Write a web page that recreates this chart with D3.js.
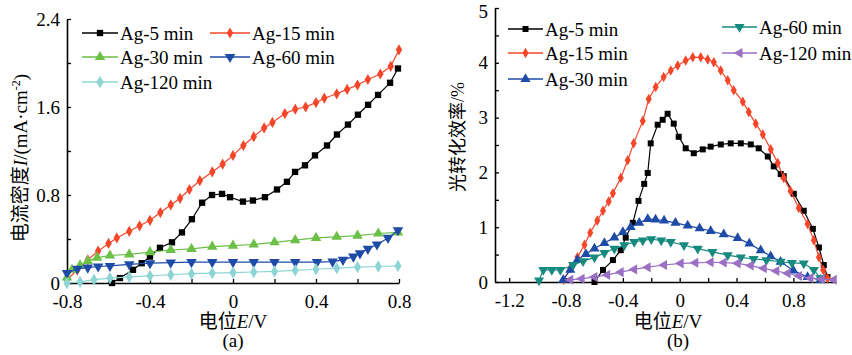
<!DOCTYPE html>
<html>
<head>
<meta charset="utf-8">
<script src="https://cdn.jsdelivr.net/npm/d3@7"></script>
<style>
  body { margin: 0; background: #fff; }
</style>
</head>
<body>
<svg id="chart" width="852" height="355"></svg>
<script>
const FONT = '"Liberation Serif", "Times New Roman", Times, "Noto Sans CJK SC", serif';

// ---- panel (a): current density vs potential ----
const a_ag5 = [[-0.583,0.0],[-0.545,0.045],[-0.482,0.12],[-0.44,0.18],[-0.40,0.24],[-0.352,0.32],[-0.294,0.37],[-0.246,0.46],[-0.198,0.58],[-0.149,0.73],[-0.101,0.80],[-0.053,0.81],[-0.014,0.78],[0.048,0.74],[0.096,0.75],[0.154,0.78],[0.212,0.85],[0.26,0.92],[0.299,1.01],[0.347,1.07],[0.395,1.16],[0.453,1.25],[0.501,1.35],[0.554,1.44],[0.602,1.53],[0.651,1.62],[0.699,1.71],[0.757,1.82],[0.795,1.95]];
const a_ag15 = [[-0.8,0.03],[-0.75,0.12],[-0.70,0.21],[-0.65,0.29],[-0.60,0.36],[-0.56,0.41],[-0.50,0.47],[-0.45,0.52],[-0.40,0.57],[-0.35,0.64],[-0.30,0.71],[-0.255,0.77],[-0.21,0.85],[-0.16,0.93],[-0.10,1.01],[-0.05,1.08],[0.0,1.16],[0.05,1.25],[0.10,1.33],[0.15,1.41],[0.19,1.46],[0.25,1.54],[0.30,1.58],[0.35,1.60],[0.40,1.64],[0.44,1.68],[0.50,1.72],[0.55,1.76],[0.60,1.80],[0.65,1.85],[0.71,1.90],[0.76,1.97],[0.80,2.12]];
const a_ag30 = [[-0.8,0.05],[-0.776,0.12],[-0.737,0.16],[-0.70,0.20],[-0.655,0.23],[-0.593,0.25],[-0.5,0.26],[-0.4,0.28],[-0.3,0.30],[-0.2,0.31],[-0.1,0.33],[0.0,0.34],[0.1,0.35],[0.2,0.37],[0.3,0.39],[0.4,0.41],[0.5,0.42],[0.6,0.43],[0.7,0.45],[0.795,0.46]];
const a_ag60 = [[-0.8,0.09],[-0.75,0.13],[-0.70,0.14],[-0.65,0.15],[-0.593,0.155],[-0.5,0.17],[-0.40,0.18],[-0.3,0.185],[-0.2,0.19],[-0.1,0.19],[0.0,0.19],[0.1,0.19],[0.2,0.19],[0.3,0.19],[0.405,0.19],[0.48,0.195],[0.53,0.21],[0.58,0.24],[0.612,0.27],[0.65,0.31],[0.694,0.35],[0.747,0.41],[0.795,0.48]];
const a_ag120 = [[-0.8,0.0],[-0.737,0.01],[-0.67,0.03],[-0.593,0.045],[-0.5,0.055],[-0.40,0.065],[-0.3,0.075],[-0.2,0.085],[-0.1,0.09],[0.0,0.095],[0.1,0.10],[0.2,0.105],[0.3,0.115],[0.4,0.125],[0.5,0.135],[0.6,0.145],[0.7,0.15],[0.795,0.155]];

// ---- panel (b): conversion efficiency vs potential ----
const b_ag5 = [[-0.6,0.0],[-0.54,0.22],[-0.47,0.40],[-0.415,0.58],[-0.38,0.81],[-0.33,1.08],[-0.29,1.48],[-0.25,1.79],[-0.225,1.99],[-0.204,2.53],[-0.155,2.87],[-0.12,2.96],[-0.085,3.07],[-0.042,2.89],[-0.007,2.65],[0.042,2.44],[0.099,2.35],[0.162,2.42],[0.218,2.47],[0.289,2.51],[0.359,2.53],[0.43,2.53],[0.5,2.51],[0.556,2.44],[0.62,2.29],[0.662,2.11],[0.711,1.97],[0.732,1.93],[0.803,1.61],[0.873,1.30],[0.937,0.97],[0.98,0.63],[1.014,0.31],[1.04,0.09]];
const b_ag15 = [[-0.817,0.04],[-0.77,0.25],[-0.72,0.45],[-0.67,0.68],[-0.63,0.9],[-0.58,1.12],[-0.54,1.3],[-0.50,1.47],[-0.47,1.62],[-0.415,1.9],[-0.366,2.22],[-0.324,2.53],[-0.26,2.94],[-0.218,3.34],[-0.169,3.56],[-0.113,3.74],[-0.063,3.86],[-0.014,3.95],[0.042,4.04],[0.092,4.10],[0.148,4.10],[0.197,4.06],[0.24,4.01],[0.289,3.86],[0.338,3.68],[0.38,3.50],[0.444,3.29],[0.486,3.10],[0.535,2.89],[0.585,2.69],[0.641,2.42],[0.69,2.17],[0.732,1.90],[0.78,1.66],[0.838,1.35],[0.9,1.06],[0.944,0.76],[0.98,0.45],[1.01,0.22],[1.04,0.07]];
const b_ag30 = [[-0.82,0.04],[-0.77,0.22],[-0.72,0.40],[-0.66,0.51],[-0.6,0.61],[-0.53,0.71],[-0.46,0.81],[-0.40,0.91],[-0.345,1.0],[-0.285,1.08],[-0.225,1.15],[-0.17,1.14],[-0.11,1.12],[-0.03,1.08],[0.056,1.03],[0.14,0.98],[0.218,0.93],[0.31,0.87],[0.408,0.80],[0.49,0.70],[0.57,0.58],[0.64,0.47],[0.71,0.37],[0.80,0.21],[0.9,0.09],[0.99,0.04]];
const b_ag60 = [[-0.99,0.03],[-0.96,0.22],[-0.90,0.22],[-0.84,0.22],[-0.75,0.31],[-0.68,0.38],[-0.6,0.45],[-0.53,0.53],[-0.46,0.61],[-0.39,0.67],[-0.32,0.73],[-0.26,0.76],[-0.2,0.78],[-0.13,0.76],[-0.063,0.73],[0.03,0.67],[0.127,0.61],[0.23,0.55],[0.338,0.49],[0.43,0.45],[0.52,0.42],[0.61,0.40],[0.71,0.37],[0.79,0.35],[0.873,0.34],[0.944,0.22],[0.99,0.07]];
const b_ag120 = [[-0.77,0.04],[-0.69,0.06],[-0.6,0.09],[-0.51,0.13],[-0.415,0.18],[-0.32,0.23],[-0.225,0.27],[-0.11,0.31],[0.007,0.34],[0.11,0.35],[0.218,0.36],[0.31,0.355],[0.408,0.34],[0.50,0.30],[0.592,0.25],[0.68,0.20],[0.76,0.16],[0.84,0.11],[0.92,0.07],[1.0,0.05],[1.085,0.04]];

// axis ticks
const aXTicks = [-0.8,-0.6,-0.4,-0.2,0,0.2,0.4,0.6,0.8];
const aXLabels = [-0.8,-0.4,0,0.4,0.8];
const aYTicks = [0,0.4,0.8,1.2,1.6,2.0,2.4];
const aYLabels = [0,0.8,1.6,2.4];
const bXTicks = [-1.2,-1.0,-0.8,-0.6,-0.4,-0.2,0,0.2,0.4,0.6,0.8,1.0];
const bXLabels = [-1.2,-0.8,-0.4,0,0.4,0.8];
const bYTicks = [0,0.5,1,1.5,2,2.5,3,3.5,4,4.5,5];
const bYLabels = [0,1,2,3,4,5];

const svg = d3.select('#chart').attr('font-family', FONT);

const tri = d3.symbolTriangle;
const seriesA = [
  { name: 'Ag-5 min',   data: a_ag5,   color: '#000000', sym: d3.symbolSquare,  size: 40, rot: 0 },
  { name: 'Ag-15 min',  data: a_ag15,  color: '#f5462a', sym: d3.symbolDiamond, size: 36, rot: 0 },
  { name: 'Ag-30 min',  data: a_ag30,  color: '#6cbf47', sym: tri, size: 48, rot: 0 },
  { name: 'Ag-60 min',  data: a_ag60,  color: '#1f4ba8', sym: tri, size: 48, rot: 180 },
  { name: 'Ag-120 min', data: a_ag120, color: '#8dd5d5', sym: d3.symbolDiamond, size: 44, rot: 0 }
];
const seriesB = [
  { name: 'Ag-5 min',   data: b_ag5,   color: '#000000', sym: d3.symbolSquare,  size: 36, rot: 0 },
  { name: 'Ag-15 min',  data: b_ag15,  color: '#f5462a', sym: d3.symbolDiamond, size: 32, rot: 0 },
  { name: 'Ag-30 min',  data: b_ag30,  color: '#1f4ba8', sym: tri, size: 44, rot: 0 },
  { name: 'Ag-60 min',  data: b_ag60,  color: '#178a80', sym: tri, size: 44, rot: 180 },
  { name: 'Ag-120 min', data: b_ag120, color: '#9a6fc4', sym: tri, size: 44, rot: -90 }
];

function drawPanel(cfg) {
  const x = d3.scaleLinear().domain(cfg.xDomain).range(cfg.xRange);
  const y = d3.scaleLinear().domain(cfg.yDomain).range(cfg.yRange);
  const g = svg.append('g');

  const xAxis = d3.axisBottom(x).tickValues(cfg.xTicks)
    .tickFormat(d => cfg.xLabels.includes(d) ? String(d) : '')
    .tickSizeInner(-4).tickSizeOuter(0).tickPadding(12);
  const yAxis = d3.axisLeft(y).tickValues(cfg.yTicks)
    .tickFormat(d => cfg.yLabels.includes(d) ? String(d) : '')
    .tickSizeInner(-4).tickSizeOuter(0).tickPadding(7);

  const gx = g.append('g').attr('transform', 'translate(0,' + cfg.yRange[0] + ')').call(xAxis);
  const gy = g.append('g').attr('transform', 'translate(' + cfg.xRange[0] + ',0)').call(yAxis);
  [gx, gy].forEach(ax => {
    ax.attr('font-family', FONT).attr('font-size', 19);
    ax.select('.domain').attr('stroke', '#000').attr('stroke-width', 1.6);
    ax.selectAll('.tick line').attr('stroke', '#000').attr('stroke-width', 1.3);
  });
  // the top label "5" sits just below the frame edge
  gy.selectAll('.tick text').filter(d => d === 5).attr('dy', '0.5em');

  const line = d3.line().x(d => x(d[0])).y(d => y(d[1]));
  cfg.series.forEach(s => {
    g.append('path').attr('d', line(s.data)).attr('fill', 'none')
      .attr('stroke', s.color).attr('stroke-width', 1.2);
    const shape = d3.symbol().type(s.sym).size(s.size);
    g.selectAll(null).data(s.data).enter().append('path')
      .attr('d', shape)
      .attr('transform', d => 'translate(' + x(d[0]) + ',' + y(d[1]) + ') rotate(' + s.rot + ')')
      .attr('fill', s.color);
  });

  // legend
  cfg.legend.forEach(l => {
    const s = cfg.series[l.i];
    const lg = g.append('g');
    lg.append('line').attr('x1', l.x).attr('x2', l.x + l.w).attr('y1', l.y).attr('y2', l.y)
      .attr('stroke', s.color).attr('stroke-width', 1.5);
    lg.append('path').attr('d', d3.symbol().type(s.sym).size(s.size)())
      .attr('transform', 'translate(' + (l.x + l.w / 2) + ',' + l.y + ') rotate(' + s.rot + ')')
      .attr('fill', s.color);
    lg.append('text').attr('x', l.x + l.w + 2).attr('y', l.y).attr('dy', '0.35em')
      .attr('font-size', 19).text(s.name);
  });

  // x title
  const xt = g.append('text').attr('x', cfg.xTitleX).attr('y', 328)
    .attr('text-anchor', 'middle').attr('font-size', 19);
  xt.append('tspan').text('电位');
  xt.append('tspan').attr('font-style', 'italic').text('E');
  xt.append('tspan').text('/V');

  g.append('text').attr('x', cfg.capX).attr('y', 347).attr('text-anchor', 'middle')
    .attr('font-size', 19).text(cfg.caption);

  return g;
}

const ga = drawPanel({
  xDomain: [-0.8, 0.8], xRange: [67, 399],
  yDomain: [0, 2.4], yRange: [283, 19],
  xTicks: aXTicks, xLabels: aXLabels, yTicks: aYTicks, yLabels: aYLabels,
  series: seriesA,
  legend: [
    { i: 0, x: 82, w: 36, y: 33 }, { i: 1, x: 210, w: 40, y: 33 },
    { i: 2, x: 82, w: 36, y: 57 }, { i: 3, x: 210, w: 40, y: 57 },
    { i: 4, x: 82, w: 36, y: 82 }
  ],
  xTitleX: 233, capX: 233, caption: '(a)'
});

const yta = ga.append('text').attr('transform', 'translate(27,158) rotate(-90)')
  .attr('text-anchor', 'middle').attr('font-size', 19);
yta.append('tspan').text('电流密度');
yta.append('tspan').attr('font-style', 'italic').text('I');
yta.append('tspan').text('/(mA·cm');
yta.append('tspan').attr('font-size', 12).attr('dy', -7).text('-2');
yta.append('tspan').attr('dy', 7).text(')');

const gb = drawPanel({
  xDomain: [-1.3, 1.1], xRange: [495, 836],
  yDomain: [0, 5], yRange: [282, 8],
  xTicks: bXTicks, xLabels: bXLabels, yTicks: bYTicks, yLabels: bYLabels,
  series: seriesB,
  legend: [
    { i: 0, x: 508, w: 35, y: 29 }, { i: 1, x: 508, w: 35, y: 53 },
    { i: 2, x: 508, w: 35, y: 79 }, { i: 3, x: 722, w: 35, y: 27 },
    { i: 4, x: 722, w: 35, y: 53 }
  ],
  xTitleX: 668, capX: 678, caption: '(b)'
});

gb.append('text').attr('transform', 'translate(464,137) rotate(-90)')
  .attr('text-anchor', 'middle').attr('font-size', 18).text('光转化效率/%');
</script>
</body>
</html>
